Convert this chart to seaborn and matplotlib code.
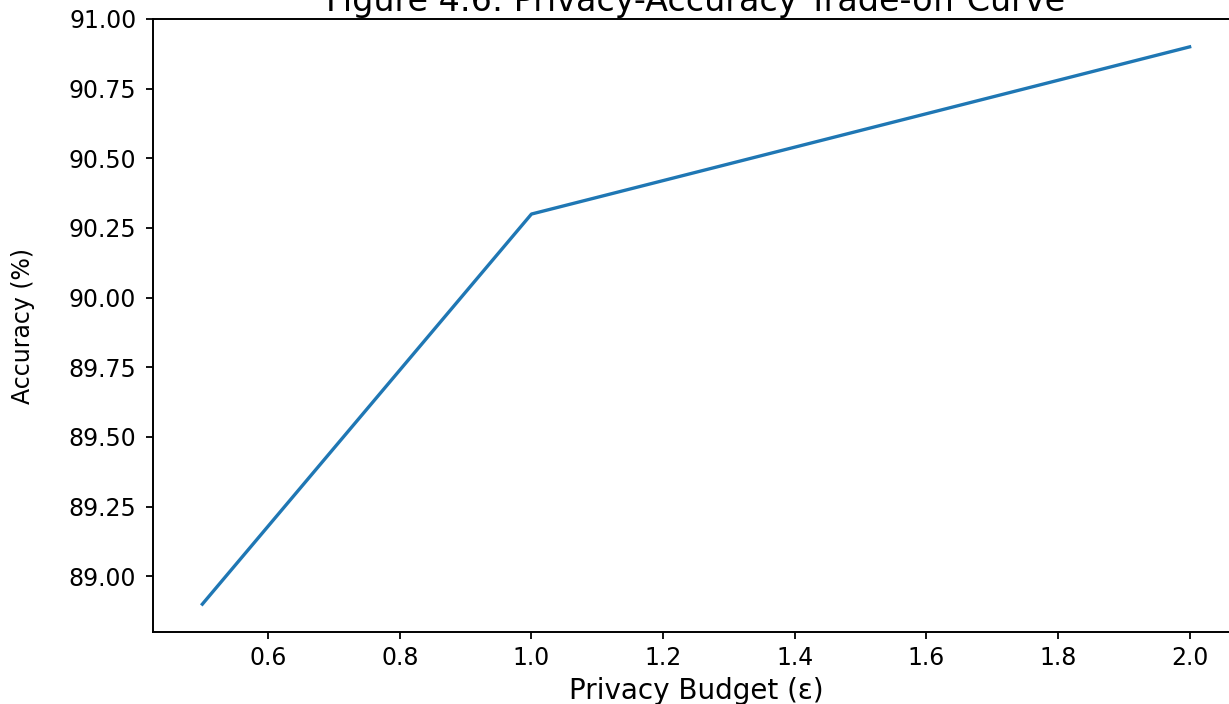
import numpy as np
import pandas as pd
import matplotlib
matplotlib.use('Agg')
import matplotlib.pyplot as plt
import seaborn as sns

# Privacy budget vs. accuracy values
epsilon = [0.5, 1.0, 2.0]
accuracy = [88.9, 90.3, 90.9]
ytick_values = [89.0, 89.25, 89.5, 89.75, 90.0, 90.25, 90.5, 90.75, 91.0]

df = pd.DataFrame({'epsilon': epsilon, 'accuracy': accuracy})

fig = plt.figure(figsize=(12.29, 7.04), dpi=100)
# axes placed so the top title and right spine are cropped like the reference
ax = fig.add_axes([153 / 1229, 72 / 704, 1086 / 1229, 613 / 704])

sns.lineplot(data=df, x='epsilon', y='accuracy', ax=ax, color='#1f77b4', linewidth=2.4)

ax.set_xlim(0.425, 2.075)
ax.set_ylim(88.8, 91.0)
ax.set_yticks(ytick_values)
ax.set_yticklabels([f'{v:.2f}' for v in ytick_values])

for s in ax.spines.values():
    s.set_linewidth(1.4)
ax.tick_params(axis='both', length=5, width=1.3, labelsize=17, colors='black')
ax.tick_params(axis='y', pad=7)
ax.tick_params(axis='x', pad=5)

ax.set_title('Figure 4.6: Privacy-Accuracy Trade-off Curve', fontsize=24, pad=6)
ax.set_xlabel('Privacy Budget (ε)', fontsize=20)
ax.set_ylabel('Accuracy (%)', fontsize=17)
ax.xaxis.set_label_coords(0.5, -0.073)
ax.yaxis.set_label_coords(-0.109, 0.5)

plt.savefig('out.png', dpi=100)
